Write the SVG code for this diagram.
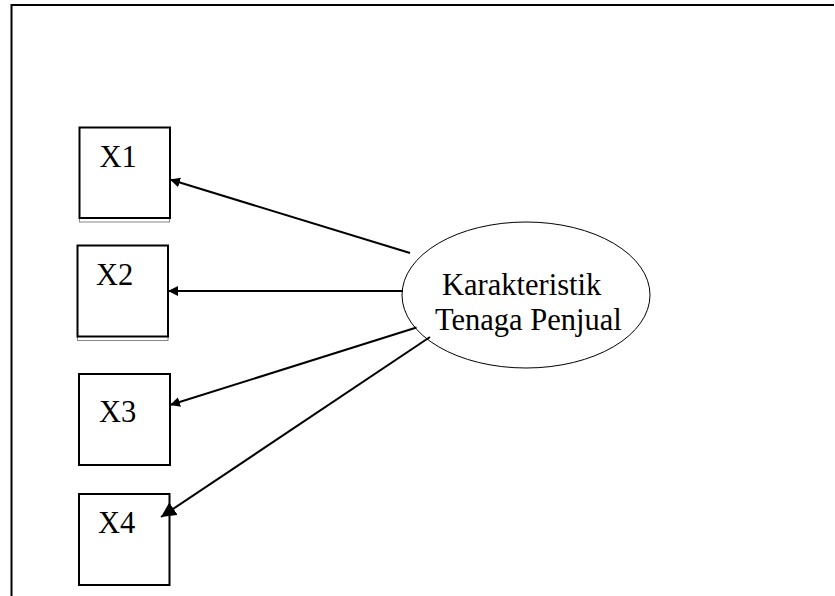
<svg xmlns="http://www.w3.org/2000/svg" width="835" height="596" viewBox="0 0 835 596">
  <style>
    .box { fill: #fff; stroke: #000; stroke-width: 2; }
    .shadow { fill: none; stroke: #888; stroke-width: 1; }
    .label { font-family: "Liberation Serif", "Times New Roman", serif; font-size: 30.5px; fill: #000; }
    .edge { stroke: #000; stroke-width: 2; fill: none; marker-end: url(#arrow); }
    .frame { stroke: #000; stroke-width: 2; fill: none; }
  </style>
  <defs>
    <marker id="arrow" viewBox="0 0 10 10" refX="10" refY="5" markerWidth="5" markerHeight="5" orient="auto" markerUnits="strokeWidth">
      <path d="M0,0 L10,5 L0,10 z" fill="#000"/>
    </marker>
    <marker id="arrowLarge" viewBox="0 0 10 10" refX="10" refY="5" markerWidth="7.5" markerHeight="7.5" orient="auto" markerUnits="strokeWidth">
      <path d="M0,0 L10,5 L0,10 z" fill="#000"/>
    </marker>
  </defs>

  <rect width="835" height="596" fill="#fff"/>

  <!-- page frame -->
  <path class="frame" d="M11.5,596 V5 H834"/>

  <g id="x1">
    <rect class="shadow" x="79.5" y="218" width="90" height="4"/>
    <rect class="box" x="79.5" y="127.5" width="90.5" height="90.5"/>
    <text class="label" x="99.5" y="167">X1</text>
  </g>

  <g id="x2">
    <rect class="shadow" x="77.5" y="336.5" width="90.5" height="4"/>
    <rect class="box" x="77.5" y="245.5" width="90.5" height="91"/>
    <text class="label" x="96" y="285">X2</text>
  </g>

  <g id="x3">
    <rect class="box" x="79" y="374" width="91" height="91"/>
    <text class="label" x="99" y="421.5">X3</text>
  </g>

  <g id="x4">
    <rect class="box" x="79" y="494" width="90.5" height="91"/>
    <text class="label" x="98" y="533">X4</text>
  </g>

  <g id="karakteristik">
    <ellipse cx="526" cy="295" rx="124" ry="73" fill="#fff" stroke="#000" stroke-width="1"/>
    <text class="label" x="442" y="295">Karakteristik</text>
    <text class="label" x="435" y="330">Tenaga Penjual</text>
  </g>

  <g id="connectors">
    <line class="edge" x1="410" y1="253" x2="170" y2="179.5"/>
    <line class="edge" x1="403" y1="291" x2="168" y2="291"/>
    <line class="edge" x1="416.5" y1="327.5" x2="170" y2="405"/>
    <line class="edge" x1="430" y1="337" x2="161" y2="517" style="marker-end: url(#arrowLarge)"/>
  </g>
</svg>
